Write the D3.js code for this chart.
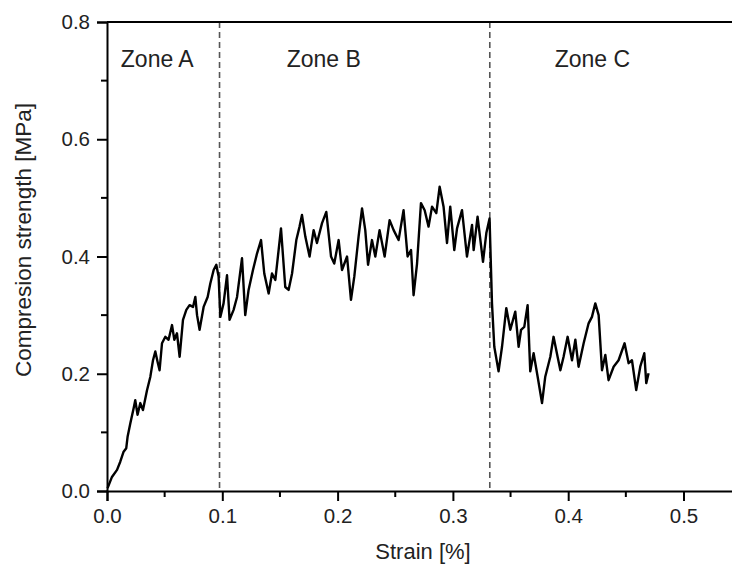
<!DOCTYPE html>
<meta charset="utf-8">
<script src="https://d3js.org/d3.v7.min.js"></script>
<style>
  body { margin: 0; background: #fff; }
  text { font-family: "Liberation Sans", Arial, sans-serif; fill: #222; }
</style>
<div id="chart"></div>
<script>
// Strain [%]
var strain = [0.0005,0.0043,0.0087,0.0115,0.0144,0.0167,0.0179,0.0202,0.0231,0.0245,
  0.0265,0.0289,0.0312,0.0347,0.0376,0.0399,0.0419,0.0439,0.0456,0.0477,
  0.0506,0.0534,0.0564,0.0584,0.0607,0.0630,0.0659,0.0688,0.0716,0.0746,
  0.0766,0.0781,0.0803,0.0838,0.0873,0.0896,0.0925,0.0948,0.0968,
  0.0983,0.1011,0.1041,0.1063,0.1098,0.1128,0.1171,0.1199,0.1228,0.1266,0.1301,0.1336,0.1364,0.1402,0.1431,0.1460,
  0.1509,0.1546,0.1575,0.1605,0.1642,0.1670,0.1691,0.1720,0.1757,0.1792,0.1821,0.1865,0.1902,0.1943,0.1971,0.2009,
  0.2038,0.2082,0.2116,0.2145,0.2182,0.2212,0.2240,0.2264,0.2298,0.2327,0.2364,0.2408,0.2451,0.2486,0.2529,0.2572,
  0.2607,0.2637,0.2659,0.2689,0.2723,0.2755,0.2789,0.2819,0.2856,0.2885,0.2919,0.2949,
  0.2977,0.3012,0.3036,0.3079,0.3122,0.3166,0.3180,0.3214,0.3261,0.3290,0.3318,0.3324,0.3339,0.3359,0.3396,0.3426,
  0.3463,0.3498,0.3541,0.3570,0.3591,0.3619,0.3648,0.3671,0.3700,0.3735,0.3773,0.3801,0.3845,0.3873,0.3908,
  0.3932,0.3960,0.3995,0.4033,0.4062,0.4090,0.4134,0.4177,0.4206,0.4235,0.4264,0.4293,0.4322,0.4350,0.4394,
  0.4437,0.4489,0.4524,0.4553,0.4590,0.4625,0.4660,0.4677,0.4697];

// Compression strength [MPa]
var stress = [0.005,0.024,0.036,0.05,0.067,0.073,0.093,0.115,0.141,0.155,
  0.13,0.15,0.138,0.172,0.195,0.223,0.238,0.22,0.206,0.252,
  0.263,0.258,0.283,0.258,0.269,0.229,0.292,0.309,0.317,0.314,
  0.331,0.3,0.275,0.314,0.331,0.354,0.377,0.386,0.366,
  0.297,0.32,0.368,0.292,0.309,0.331,0.397,0.3,0.343,0.377,0.405,0.428,0.371,0.337,0.371,0.36,
  0.448,0.348,0.343,0.371,0.428,0.451,0.471,0.434,0.4,0.445,0.423,0.457,0.476,0.4,0.388,0.428,
  0.377,0.4,0.326,0.366,0.434,0.482,0.445,0.386,0.428,0.4,0.445,0.4,0.462,0.445,0.428,0.479,
  0.4,0.411,0.334,0.388,0.491,0.479,0.451,0.485,0.474,0.519,0.485,0.423,
  0.485,0.411,0.448,0.479,0.4,0.454,0.411,0.468,0.391,0.44,0.465,0.423,0.32,0.246,0.204,0.246,
  0.312,0.275,0.306,0.246,0.275,0.28,0.317,0.204,0.235,0.195,0.15,0.195,0.229,0.263,0.229,
  0.206,0.229,0.263,0.223,0.258,0.212,0.252,0.286,0.297,0.32,0.3,0.206,0.232,0.189,0.212,
  0.223,0.252,0.218,0.223,0.172,0.212,0.235,0.184,0.201];

// Zone boundaries and labels
var zoneBounds = [0.0976, 0.332];
var zoneNames = ["Zone A", "Zone B", "Zone C"];
var zoneCenters = [0.0436, 0.188, 0.421];

var xTicks = [0, 0.1, 0.2, 0.3, 0.4, 0.5];
var xMinor = [0.05, 0.15, 0.25, 0.35, 0.45];
var yTicks = [0, 0.2, 0.4, 0.6, 0.8];
var yMinor = [0.1, 0.3, 0.5, 0.7];

var W = 732, H = 565;
var margin = {top: 22, left: 107, bottom: 74};
var plotH = H - margin.top - margin.bottom;

var svg = d3.select("#chart").append("svg")
    .attr("width", W)
    .attr("height", H);

var x = d3.scaleLinear().domain([0, 0.545]).range([margin.left, margin.left + 0.545 * 1153]);
var y = d3.scaleLinear().domain([0, 0.8]).range([margin.top + plotH, margin.top]);

// dashed zone lines
svg.selectAll(".zone-line")
  .data(zoneBounds)
  .enter().append("line")
    .attr("x1", d => x(d)).attr("x2", d => x(d))
    .attr("y1", y(0.8)).attr("y2", y(0))
    .attr("stroke", "#555")
    .attr("stroke-width", 1.6)
    .attr("stroke-dasharray", "6,4");

// zone labels
svg.selectAll(".zone-label")
  .data(zoneNames)
  .enter().append("text")
    .attr("x", (d, i) => x(zoneCenters[i]))
    .attr("y", 67)
    .attr("text-anchor", "middle")
    .style("font-size", "23px")
    .text(d => d);

// the curve
var line = d3.line()
  .x(d => x(d[0]))
  .y(d => y(d[1]));

svg.append("path")
  .datum(d3.zip(strain, stress))
  .attr("fill", "none")
  .attr("stroke", "#000")
  .attr("stroke-width", 2.4)
  .attr("stroke-linejoin", "round")
  .attr("d", line);

// X axis
var xAxis = svg.append("g")
  .attr("transform", "translate(0," + y(0) + ")")
  .call(d3.axisBottom(x).tickValues(xTicks).tickFormat(d3.format(".1f")).tickSize(10).tickPadding(7));
xAxis.append("g").selectAll("line")
  .data(xMinor)
  .enter().append("line")
    .attr("x1", d => x(d)).attr("x2", d => x(d))
    .attr("y1", 0).attr("y2", 6)
    .attr("stroke", "#000");

// Y axis
var yAxis = svg.append("g")
  .attr("transform", "translate(" + margin.left + ",0)")
  .call(d3.axisLeft(y).tickValues(yTicks).tickFormat(d3.format(".1f")).tickSize(10).tickPadding(7));
yAxis.append("g").selectAll("line")
  .data(yMinor)
  .enter().append("line")
    .attr("x1", 0).attr("x2", -6)
    .attr("y1", d => y(d)).attr("y2", d => y(d))
    .attr("stroke", "#000");

[xAxis, yAxis].forEach(function(g) {
  g.select(".domain").attr("stroke-width", 2);
  g.selectAll("line").attr("stroke-width", 2);
  g.selectAll("text").style("font-size", "20.5px").style("font-family", "Liberation Sans, Arial, sans-serif").attr("fill", "#222");
});

// top frame line
svg.append("line")
  .attr("x1", margin.left).attr("x2", W)
  .attr("y1", y(0.8)).attr("y2", y(0.8))
  .attr("stroke", "#000")
  .attr("stroke-width", 2);

// axis titles
svg.append("text")
  .attr("x", 423)
  .attr("y", 559)
  .attr("text-anchor", "middle")
  .style("font-size", "22px")
  .text("Strain [%]");

svg.append("text")
  .attr("transform", "translate(31,240) rotate(-90)")
  .attr("text-anchor", "middle")
  .style("font-size", "22.5px")
  .text("Compresion strength [MPa]");
</script>
